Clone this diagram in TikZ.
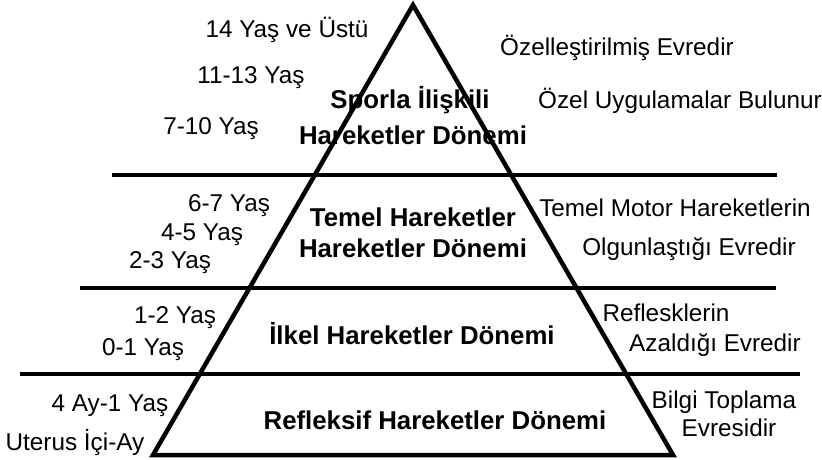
\documentclass[tikz,border=0pt]{standalone}
\usepackage{fontspec}
\setmainfont{Liberation Sans}
\begin{document}
\begin{tikzpicture}[x=1pt,y=-1pt,
  edge/.style={line width=4.5pt,black},
  lbl/.style={inner sep=0pt,anchor=mid,font=\fontsize{24.3}{28}\selectfont},
  ttl/.style={inner sep=0pt,anchor=mid,font=\fontsize{25.8}{30}\selectfont\bfseries}]
\useasboundingbox (0,0) rectangle (822,460);
% pyramid
\coordinate (apex) at (413,5);
\coordinate (bl) at (153,455);
\coordinate (br) at (673,455);
\draw[edge,line join=miter,miter limit=20] (apex) -- (br) -- (bl) -- cycle;
\coordinate (l1a) at (112,175); \coordinate (l1b) at (777,175);
\coordinate (l2a) at (80,288);  \coordinate (l2b) at (776,288);
\coordinate (l3a) at (20,374);  \coordinate (l3b) at (800,374);
\draw[edge] (l1a) -- (l1b);
\draw[edge] (l2a) -- (l2b);
\draw[edge] (l3a) -- (l3b);
% left labels
\node[lbl] (a14) at (287,35) {14 Yaş ve Üstü};
\node[lbl] (a11) at (251,81) {11-13 Yaş};
\node[lbl] (a7)  at (211,132) {7-10 Yaş};
\node[lbl] (a6)  at (229,209) {6-7 Yaş};
\node[lbl] (a4)  at (202,238) {4-5 Yaş};
\node[lbl] (a2)  at (170,266) {2-3 Yaş};
\node[lbl] (a1)  at (175,321) {1-2 Yaş};
\node[lbl] (a0)  at (143,353) {0-1 Yaş};
\node[lbl] (aay) at (110,409) {4 Ay-1 Yaş};
\node[lbl] (aut) at (75,448) {Uterus İçi-Ay};
% titles
\node[ttl] (t1a) at (410,106) {Sporla İlişkili};
\node[ttl] (t1b) at (413,142) {Hareketler Dönemi};
\node[ttl] (t2a) at (413,224) {Temel Hareketler};
\node[ttl] (t2b) at (413,255) {Hareketler Dönemi};
\node[ttl] (t3)  at (412,342) {İlkel Hareketler Dönemi};
\node[ttl] (t4)  at (435,427) {Refleksif Hareketler Dönemi};
% right labels
\node[lbl] (r1a) at (617,53) {Özelleştirilmiş Evredir};
\node[lbl] (r1b) at (680,106) {Özel Uygulamalar Bulunur};
\node[lbl] (r2a) at (675,214) {Temel Motor Hareketlerin};
\node[lbl] (r2b) at (689,253) {Olgunlaştığı Evredir};
\node[lbl] (r3a) at (666,319) {Reflesklerin};
\node[lbl] (r3b) at (715,349) {Azaldığı Evredir};
\node[lbl] (r4a) at (724,406) {Bilgi Toplama};
\node[lbl] (r4b) at (729,434) {Evresidir};
\end{tikzpicture}
\end{document}
